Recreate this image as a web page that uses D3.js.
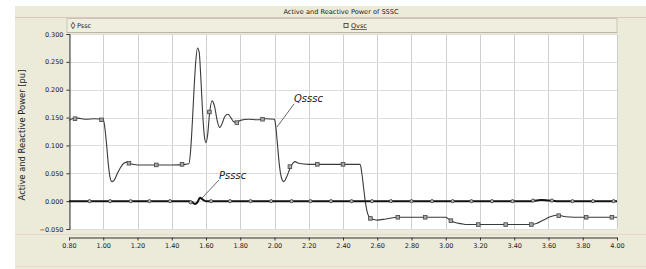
<!DOCTYPE html>
<html lang="en">
<head>
  <meta charset="UTF-8">
  <title>Active and Reactive Power of SSSC</title>
  <style>
    html, body { margin: 0; padding: 0; background: #ffffff; }
    #chart { width: 646px; height: 269px; }
    text { font-family: "DejaVu Sans", sans-serif; fill: #222; }
  </style>
  <script src="https://d3js.org/d3.v7.min.js"></script>
</head>
<body>
<div id="chart"></div>
<script>
  // ---- data ----
  var xTicks = [0.80, 1.00, 1.20, 1.40, 1.60, 1.80, 2.00, 2.20, 2.40, 2.60, 2.80, 3.00, 3.20, 3.40, 3.60, 3.80, 4.00];
  var yTicks = [0.300, 0.250, 0.200, 0.150, 0.100, 0.050, 0.000, -0.050];

  // Qsssc trace
  var qTime = [0.80, 0.82, 0.85, 0.90, 0.95, 1.00, 1.01, 1.02, 1.03, 1.04, 1.05, 1.06, 1.08, 1.10, 1.12, 1.14, 1.16, 1.20, 1.30, 1.40, 1.48, 1.50,
               1.51, 1.52, 1.53, 1.54, 1.55, 1.56, 1.57, 1.58, 1.59, 1.60, 1.61, 1.62, 1.635, 1.65, 1.665, 1.68, 1.695, 1.71, 1.728, 1.745, 1.76, 1.78,
               1.80, 1.85, 1.90, 1.95, 2.00, 2.005, 2.015, 2.025, 2.035, 2.045, 2.055, 2.07, 2.09, 2.11, 2.12, 2.14, 2.20, 2.30, 2.40, 2.50,
               2.51, 2.52, 2.53, 2.54, 2.55, 2.56, 2.58, 2.60, 2.65, 2.72, 2.80, 2.90, 3.00, 3.02, 3.05, 3.10, 3.12, 3.20, 3.30, 3.40, 3.50,
               3.53, 3.57, 3.61, 3.655, 3.70, 3.80, 3.90, 4.00];
  var qValue = [0.145, 0.148, 0.149, 0.147, 0.148, 0.147, 0.130, 0.100, 0.065, 0.042, 0.035, 0.036, 0.048, 0.060, 0.068, 0.070, 0.067, 0.065, 0.065, 0.065, 0.066, 0.067,
                0.090, 0.140, 0.200, 0.250, 0.275, 0.268, 0.220, 0.160, 0.118, 0.105, 0.120, 0.155, 0.180, 0.170, 0.145, 0.132, 0.140, 0.152, 0.156, 0.150, 0.143, 0.141,
                0.145, 0.147, 0.146, 0.148, 0.147, 0.140, 0.110, 0.075, 0.050, 0.038, 0.035, 0.043, 0.058, 0.069, 0.071, 0.068, 0.066, 0.066, 0.066, 0.066,
                0.050, 0.025, 0.000, -0.018, -0.027, -0.031, -0.033, -0.034, -0.032, -0.029, -0.029, -0.029, -0.029, -0.033, -0.038, -0.041, -0.042, -0.042, -0.042, -0.042, -0.042,
                -0.040, -0.034, -0.028, -0.025, -0.028, -0.029, -0.029, -0.029];
  var qMarkTime = [0.835, 0.99, 1.15, 1.31, 1.46, 1.62, 1.78, 1.93, 2.09, 2.25, 2.40, 2.56, 2.72, 2.88, 3.03, 3.19, 3.35, 3.50, 3.66, 3.82, 3.97];
  var qMarkValue = [0.148, 0.146, 0.068, 0.065, 0.066, 0.160, 0.141, 0.147, 0.062, 0.066, 0.066, -0.031, -0.029, -0.029, -0.035, -0.042, -0.042, -0.042, -0.026, -0.029, -0.029];

  // Psssc trace
  var pTime = [0.80, 1.00, 1.20, 1.50, 1.52, 1.535, 1.55, 1.565, 1.58, 1.60, 2.00, 2.50, 3.00, 3.50, 3.53, 3.56, 3.60, 3.65, 4.00];
  var pValue = [0.000, 0.000, 0.000, 0.000, -0.002, -0.005, -0.002, 0.006, 0.003, 0.000, 0.000, 0.000, 0.000, 0.000, 0.001, 0.002, 0.001, 0.000, 0.000];
  var pMarkTime = [0.92, 1.04, 1.16, 1.27, 1.39, 1.51, 1.63, 1.74, 1.86, 1.98, 2.10, 2.21, 2.33, 2.45, 2.57, 2.68, 2.80, 2.92, 3.04, 3.15, 3.27, 3.39, 3.51, 3.62, 3.74, 3.86, 3.98];
  var pMarkValue = [0, 0, 0, 0, 0, -0.002, 0, 0, 0, 0, 0, 0, 0, 0, 0, 0, 0, 0, 0, 0, 0, 0, 0.001, 0.001, 0, 0, 0];

  var W = 646, H = 269;
  var plotL = 69, plotR = 617, plotT = 34, plotB = 229;

  var svg = d3.select("#chart").append("svg")
    .attr("width", W).attr("height", H);

  // beige window panel
  svg.append("rect").attr("x", 15).attr("y", 6).attr("width", W - 15).attr("height", H - 6)
    .attr("fill", "#ecead9");
  // title bar line
  svg.append("line").attr("x1", 15).attr("x2", W).attr("y1", 17.5).attr("y2", 17.5)
    .attr("stroke", "#dcc4c0");
  svg.append("text").attr("x", 341).attr("y", 14).attr("text-anchor", "middle")
    .attr("font-size", 6.6).text("Active and Reactive Power of SSSC");

  // legend strip
  svg.append("rect").attr("x", 67).attr("y", 18.5).attr("width", plotR - 67).attr("height", 14)
    .attr("fill", "#f0eedf").attr("stroke", "#c9c6b4").attr("stroke-width", 1);
  svg.append("line").attr("x1", 67).attr("x2", plotR).attr("y1", 32.5).attr("y2", 32.5)
    .attr("stroke", "#b9b6a6");

  var x = d3.scaleLinear().domain([0.8, 4.0]).range([plotL, plotR]);
  var y = d3.scaleLinear().domain([-0.05, 0.3]).range([plotB, plotT]);

  // plot background
  svg.append("rect").attr("x", plotL).attr("y", plotT).attr("width", plotR - plotL).attr("height", plotB - plotT)
    .attr("fill", "#ffffff");

  // grid
  svg.append("g").selectAll("line").data(xTicks).join("line")
    .attr("x1", function(d) { return Math.round(x(d)) + 0.5; })
    .attr("x2", function(d) { return Math.round(x(d)) + 0.5; })
    .attr("y1", plotT).attr("y2", plotB)
    .attr("stroke", "#cfcfcf");
  svg.append("g").selectAll("line").data(yTicks).join("line")
    .attr("x1", plotL).attr("x2", plotR)
    .attr("y1", function(d) { return Math.round(y(d)) + 0.5; })
    .attr("y2", function(d) { return Math.round(y(d)) + 0.5; })
    .attr("stroke", "#dddddd");

  // y axis
  var yAxis = d3.axisLeft(y).tickValues(yTicks).tickSize(3).tickPadding(3)
    .tickFormat(d3.format(".3f"));
  var gy = svg.append("g").attr("transform", "translate(" + (plotL + 0.5) + ",0)").call(yAxis);
  gy.select(".domain").attr("stroke", "#333");
  gy.selectAll(".tick line").attr("stroke", "#333");
  gy.selectAll("text").attr("font-size", 6.5).attr("fill", "#222")
    .attr("font-family", "DejaVu Sans, sans-serif");

  // x axis (detached below the plot)
  svg.append("line").attr("x1", 15).attr("x2", W).attr("y1", 234.5).attr("y2", 234.5)
    .attr("stroke", "#e8d6d0");
  var xAxis = d3.axisBottom(x).tickValues(xTicks).tickSizeInner(3).tickSizeOuter(0).tickPadding(3)
    .tickFormat(d3.format(".2f"));
  var gx = svg.append("g").attr("transform", "translate(0,237.5)").call(xAxis);
  gx.select(".domain").attr("stroke", "#333");
  gx.selectAll(".tick line").attr("stroke", "#333");
  gx.selectAll("text").attr("font-size", 6.5).attr("fill", "#222")
    .attr("font-family", "DejaVu Sans, sans-serif");
  svg.append("line").attr("x1", 15).attr("x2", W).attr("y1", 266.5).attr("y2", 266.5)
    .attr("stroke", "#ecd6d0");

  // y axis title
  svg.append("text").attr("transform", "translate(25,135) rotate(-90)")
    .attr("text-anchor", "middle").attr("font-size", 8.4).attr("fill", "#333")
    .text("Active and Reactive Power [pu]");

  // traces
  var line = d3.line().x(function(d) { return x(d[0]); }).y(function(d) { return y(d[1]); })
    .curve(d3.curveMonotoneX);
  var qData = d3.zip(qTime, qValue);
  var pData = d3.zip(pTime, pValue);

  var plot = svg.append("g");
  plot.append("path").datum(qData).attr("d", line)
    .attr("fill", "none").attr("stroke", "#3a3a3a").attr("stroke-width", 1.1);
  plot.append("path").datum(pData).attr("d", line)
    .attr("fill", "none").attr("stroke", "#111").attr("stroke-width", 2);

  plot.selectAll(".qm").data(d3.zip(qMarkTime, qMarkValue)).join("rect")
    .attr("class", "qm")
    .attr("x", function(d) { return x(d[0]) - 1.8; })
    .attr("y", function(d) { return y(d[1]) - 1.8; })
    .attr("width", 3.6).attr("height", 3.6)
    .attr("fill", "#aaa").attr("stroke", "#444").attr("stroke-width", 0.8);
  plot.selectAll(".pm").data(d3.zip(pMarkTime, pMarkValue)).join("circle")
    .attr("class", "pm")
    .attr("cx", function(d) { return x(d[0]); })
    .attr("cy", function(d) { return y(d[1]); })
    .attr("r", 1.6)
    .attr("fill", "#bbb").attr("stroke", "#333").attr("stroke-width", 0.8);

  // annotations
  svg.append("line").attr("x1", 277).attr("y1", 127).attr("x2", 294).attr("y2", 104)
    .attr("stroke", "#444").attr("stroke-width", 0.8);
  svg.append("text").attr("x", 294).attr("y", 102).attr("font-size", 10)
    .attr("font-style", "italic").attr("font-family", "Liberation Sans, sans-serif")
    .attr("fill", "#222").text("Qsssc");
  svg.append("line").attr("x1", 202).attr("y1", 198).attr("x2", 219).attr("y2", 180)
    .attr("stroke", "#444").attr("stroke-width", 0.8);
  svg.append("text").attr("x", 219).attr("y", 179).attr("font-size", 10)
    .attr("font-style", "italic").attr("font-family", "Liberation Sans, sans-serif")
    .attr("fill", "#222").text("Psssc");

  // legend entries
  svg.append("path").attr("d", d3.symbol(d3.symbolDiamond, 12)())
    .attr("transform", "translate(73,25.5)").attr("fill", "none").attr("stroke", "#333").attr("stroke-width", 0.8);
  svg.append("text").attr("x", 77).attr("y", 28).attr("font-size", 6.5).text("Pssc");
  svg.append("rect").attr("x", 344).attr("y", 23.5).attr("width", 4).attr("height", 4)
    .attr("fill", "none").attr("stroke", "#333").attr("stroke-width", 0.8);
  svg.append("text").attr("x", 351).attr("y", 28).attr("font-size", 6.5)
    .attr("text-decoration", "underline").text("Qvsc");
</script>
</body>
</html>
